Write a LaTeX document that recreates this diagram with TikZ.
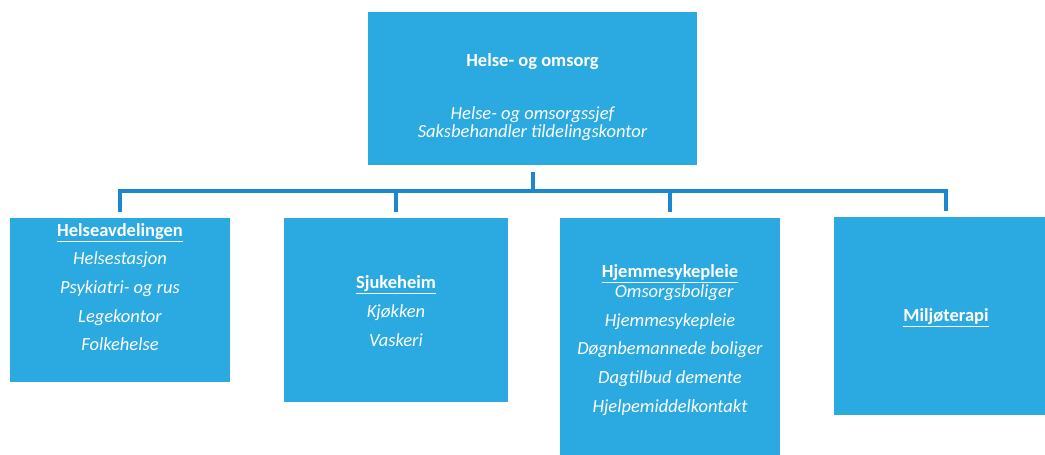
\documentclass[tikz,border=0pt]{standalone}
\usepackage{fontspec}
\setmainfont{Carlito}
\usetikzlibrary{positioning, calc}
\definecolor{unit-color}{RGB}{43,169,225}
\definecolor{link-color}{RGB}{28,135,204}

\begin{document}
\begin{tikzpicture}[x=1pt, y=-1pt,
    unit/.style={rectangle, fill=unit-color, anchor=north west, inner sep=0pt, outer sep=0pt},
    unittext/.style={align=center, text=white, inner sep=0pt, font=\fontsize{18.5}{28.6}\selectfont},
    link/.style={draw=link-color, line width=4pt}]

    \useasboundingbox (0,0) rectangle (1045,455);

    % Top unit
    \node[unit, minimum width=329pt, minimum height=153pt] (top) at (368,12) {};
    \node[unittext, font=\fontsize{18.5}{20}\selectfont\bfseries] (toptitle) at (532.5,62) {Helse- og omsorg};
    \node[unittext, font=\fontsize{18.5}{18}\selectfont\itshape] (topstaff) at (532.5,124) {Helse- og omsorgssjef\\Saksbehandler tildelingskontor};

    % Four departments
    \node[unit, minimum width=220pt, minimum height=164pt] (helse) at (10,218) {};
    \node[unit, minimum width=224pt, minimum height=184pt] (sjuke) at (284,218) {};
    \node[unit, minimum width=220pt, minimum height=245pt] (hjem) at (560,218) {};
    \node[unit, minimum width=224pt, minimum height=198pt] (miljo) at (834,217) {};

    % Department texts
    \node[unittext] (helsetext) at (120,287) {\underline{\textbf{Helseavdelingen}}\\\textit{Helsestasjon}\\\textit{Psykiatri- og rus}\\\textit{Legekontor}\\\textit{Folkehelse}};
    \node[unittext] (sjuketext) at (396,311) {\underline{\textbf{Sjukeheim}}\\\textit{Kjøkken}\\\textit{Vaskeri}};
    \node[unittext] (hjemtext) at (670,340) {\underline{\textbf{Hjemmesykepleie}}\\[-8.6pt]\textit{~~Omsorgsboliger}\\\textit{Hjemmesykepleie}\\\textit{Døgnbemannede boliger}\\\textit{Dagtilbud demente}\\\textit{Hjelpemiddelkontakt}};
    \node[unittext] (miljotext) at (946,318) {\underline{\textbf{Miljøterapi}}};

    % Connectors from the top unit to the departments
    \coordinate (bar) at (532.5,191);
    \draw[link, shorten <=7pt] (top.south) -- (top.south |- bar);
    \draw[link, shorten >=6pt] (top.south |- bar) -| (helse.north);
    \draw[link, shorten >=6pt] (top.south |- bar) -| (sjuke.north);
    \draw[link, shorten >=6pt] (top.south |- bar) -| (hjem.north);
    \draw[link, shorten >=6pt] (top.south |- bar) -| (miljo.north);
\end{tikzpicture}
\end{document}
